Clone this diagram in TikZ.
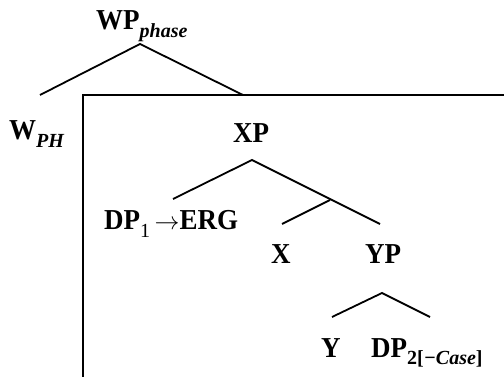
\documentclass[tikz,border=0pt]{standalone}
\usepackage{fontspec}
\setmainfont{Liberation Serif}
\newcommand{\lsub}[1]{\raisebox{-0.28em}{\fontsize{20}{24}\selectfont #1}}
\newcommand{\tall}[1]{\scalebox{1}[1.07]{#1}}
\begin{document}
\begin{tikzpicture}[x=1pt,y=-1pt,
  lab/.style={inner sep=0pt,anchor=base west,font=\fontsize{27}{32}\selectfont\bfseries},
  branch/.style={line width=1.8pt},
  frame/.style={line width=1.6pt}]
\useasboundingbox (0,0) rectangle (504,377);

% labels
\node[lab] (wp)  at (96,30)   {\tall{WP}\lsub{\itshape phase}};
\node[lab] (wph) at (9,140)   {\tall{W}\lsub{\itshape PH}};
\node[lab] (xp)  at (233,143) {\tall{XP}};
\node[lab] (dp1) at (104,230) {\tall{DP}\lsub{\mdseries 1}\,$\rightarrow$\tall{ERG}};
\node[lab] (x)   at (271,263) {\tall{X}};
\node[lab] (yp)  at (365,263) {\tall{YP}};
\node[lab] (y)   at (321,357) {\tall{Y}};
\node[lab] (dp2) at (371,357) {\tall{DP}\lsub{2[\textit{−Case}]}};

% branch points
\coordinate (wptop) at (140,44);
\coordinate (wpl)   at (40,95);
\coordinate (wpr)   at (243,95);
\coordinate (xptop) at (252,160);
\coordinate (xpl)   at (173,199);
\coordinate (xpr)   at (380,224);
\coordinate (xbar)  at (330,200);
\coordinate (xl)    at (282,224);
\coordinate (yptop) at (382,293);
\coordinate (ypl)   at (332,317);
\coordinate (ypr)   at (430,317);

% enclosing frame
\coordinate (fc) at (83,95);
\draw[frame] (504,95) -- (fc) -- (83,377);

% tree branches
\draw[branch] (wpl) -- (wptop) -- (wpr);
\draw[branch] (xpl) -- (xptop) -- (xpr);
\draw[branch] (xl) -- (xbar);
\draw[branch] (ypl) -- (yptop) -- (ypr);
\end{tikzpicture}
\end{document}
